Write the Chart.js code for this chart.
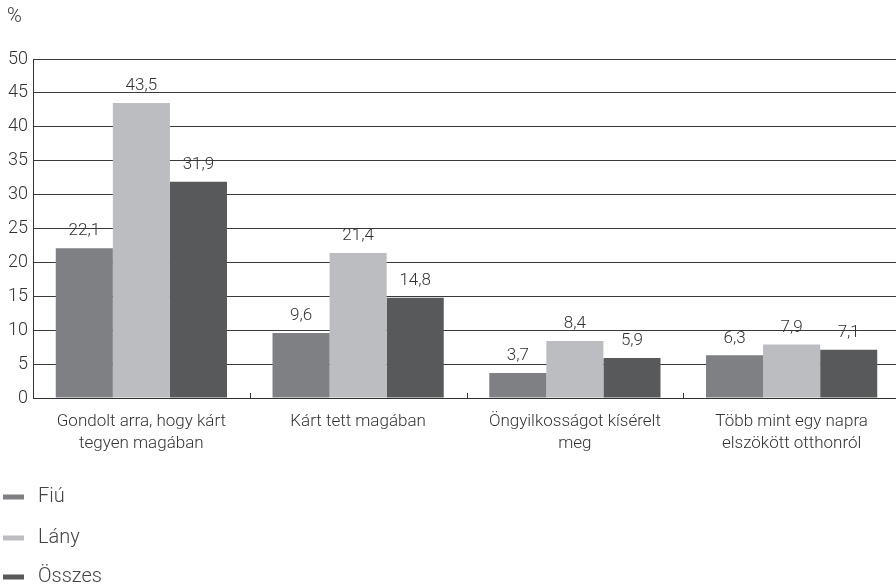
<!DOCTYPE html>
<html><head><meta charset="utf-8">
<script src="https://cdn.jsdelivr.net/npm/chart.js@4.4.0/dist/chart.umd.min.js"></script>
<style>html,body{margin:0;padding:0;overflow:hidden;background:#fff;width:896px;height:585px}canvas{display:block}</style>
</head><body><canvas id="c" width="900" height="585" style="width:900px;height:585px"></canvas>
<script>
const categories = [["Gondolt arra, hogy kárt","tegyen magában"],["Kárt tett magában"],["Öngyilkosságot kísérelt","meg"],["Több mint egy napra","elszökött otthonról"]];
const fiu = [22.1, 9.6, 3.7, 6.3];
const lany = [43.5, 21.4, 8.4, 7.9];
const osszes = [31.9, 14.8, 5.9, 7.1];
const seriesNames = ["Fiú", "Lány", "Összes"];
const seriesColors = ["#7f8084", "#bcbdc0", "#58595b"];
const yMin = 0, yMax = 50, yStep = 5;
const unitLabel = "%";

const FONT = "Roboto";
Chart.defaults.font.family = FONT;
Chart.defaults.font.weight = "300";
Chart.defaults.color = "#333";

const extras = {
  id: "extras",
  afterDatasetsDraw(chart) {
    const ctx = chart.ctx;
    ctx.save();
    ctx.font = "300 17px " + FONT;
    ctx.fillStyle = "#333";
    ctx.textAlign = "center";
    ctx.textBaseline = "middle";
    chart.data.datasets.forEach((ds, di) => {
      const meta = chart.getDatasetMeta(di);
      meta.data.forEach((el, i) => {
        ctx.fillText(String(ds.data[i]).replace(".", ","), el.x, el.y - 17);
      });
    });
    const xs = chart.scales.x;
    const bottom = chart.chartArea.bottom;
    ctx.strokeStyle = "#333";
    ctx.lineWidth = 1;
    for (let i = 1; i < categories.length; i++) {
      const bx = Math.round((xs.getPixelForTick(i - 1) + xs.getPixelForTick(i)) / 2) + 0.5;
      ctx.beginPath();
      ctx.moveTo(bx, bottom - 5);
      ctx.lineTo(bx, bottom);
      ctx.stroke();
    }
    ctx.restore();
  },
  afterDraw(chart) {
    const ctx = chart.ctx;
    ctx.save();
    ctx.fillStyle = "#333";
    ctx.font = "300 20px " + FONT;
    ctx.textAlign = "left";
    ctx.textBaseline = "middle";
    ctx.fillText(unitLabel, 7, 17);
    const ys = [497, 538, 577];
    ctx.font = "300 20px " + FONT;
    chart.data.datasets.forEach((ds, i) => {
      ctx.fillStyle = ds.backgroundColor;
      ctx.fillRect(3, ys[i] - 2.5, 21, 5);
      ctx.fillStyle = "#444";
      ctx.fillText(ds.label, 38, ys[i]);
    });
    ctx.restore();
  }
};

new Chart(document.getElementById("c"), {
  type: "bar",
  data: {
    labels: categories,
    datasets: [
      { label: seriesNames[0], data: fiu, backgroundColor: seriesColors[0] },
      { label: seriesNames[1], data: lany, backgroundColor: seriesColors[1] },
      { label: seriesNames[2], data: osszes, backgroundColor: seriesColors[2] }
    ]
  },
  options: {
    responsive: false,
    animation: false,
    devicePixelRatio: 1,
    layout: { padding: { top: 59, bottom: 127, left: 0, right: 0 } },
    datasets: { bar: { categoryPercentage: 0.79, barPercentage: 1.0, borderWidth: 0 } },
    plugins: { legend: { display: false }, tooltip: { enabled: false } },
    scales: {
      x: {
        grid: { display: false },
        border: { display: true, color: "#333", width: 1 },
        ticks: { color: "#333", font: { size: 17, weight: "300", lineHeight: 1.3 }, padding: 5, maxRotation: 0, autoSkip: false },
        afterFit: (s) => { s.height = 60; }
      },
      y: {
        min: yMin, max: yMax,
        grid: { color: "#3a3a3a", lineWidth: 1, drawTicks: false },
        border: { display: true, color: "#333", width: 1 },
        ticks: { stepSize: yStep, color: "#333", font: { size: 18, weight: "300" }, padding: 5 },
        afterFit: (s) => { s.width = 33; }
      }
    }
  },
  plugins: [extras]
});
</script>
</body></html>
